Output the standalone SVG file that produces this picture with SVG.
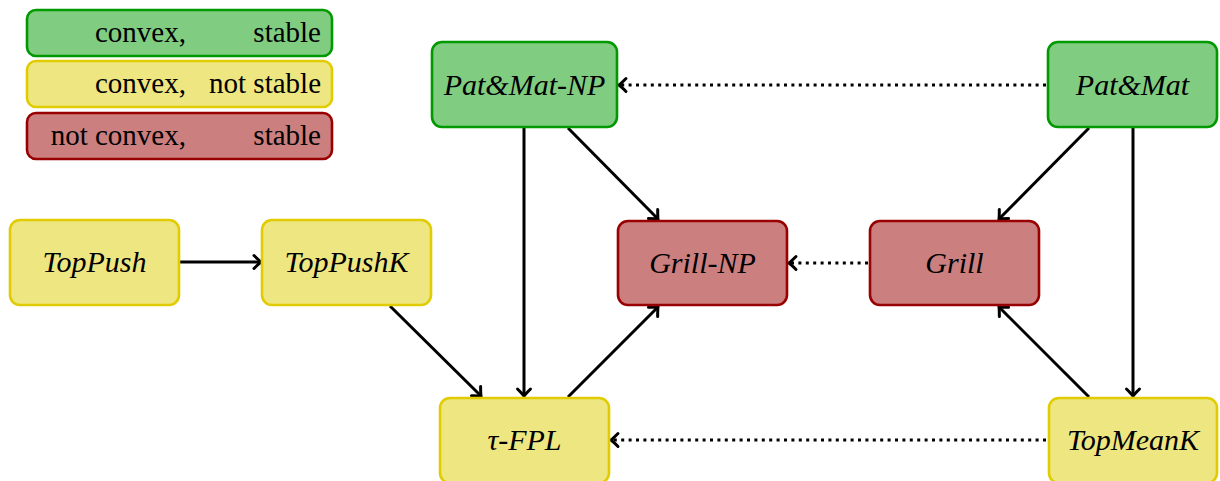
<svg xmlns="http://www.w3.org/2000/svg" width="1220" height="481" viewBox="0 0 1220 481">
<defs>
<style>
.g rect{fill:#80cc80;stroke:#009900;stroke-width:2.6}
.y rect{fill:#eee680;stroke:#e0cc00;stroke-width:2.6}
.r rect{fill:#cc7f7f;stroke:#990000;stroke-width:2.6}
.lab{font-family:'Liberation Serif',serif;font-style:italic;font-size:30px;fill:#000;text-anchor:middle}
.leg{font-family:'Liberation Serif',serif;font-size:29px;fill:#000;text-anchor:end}
.e{fill:none;stroke:#000;stroke-width:3;marker-end:url(#ah)}
.d{stroke-dasharray:3 4.4}
</style>
<marker id="ah" markerUnits="userSpaceOnUse" viewBox="-10 -8 12 16" refX="0" refY="0" markerWidth="12" markerHeight="16" orient="auto" overflow="visible">
<path d="M -7,-6.5 Q -2,-1.5 0,0 Q -2,1.5 -7,6.5" fill="none" stroke="#000" stroke-width="3" stroke-linecap="round"/>
</marker>
</defs>
<g id="legend">
<g class="g"><rect x="27" y="10" width="305" height="46" rx="9"/></g>
<g class="y"><rect x="27" y="61" width="305" height="46" rx="9"/></g>
<g class="r"><rect x="27" y="113" width="305" height="46" rx="9"/></g>
<text class="leg" x="186" y="42">convex,</text>
<text class="leg" x="321" y="42">stable</text>
<text class="leg" x="186" y="93">convex,</text>
<text class="leg" x="321" y="93">not stable</text>
<text class="leg" x="186" y="145">not convex,</text>
<text class="leg" x="321" y="145">stable</text>
</g>
<g id="edges">
<path class="e d" d="M 1046,85 L 619,85"/>
<path class="e d" d="M 868,263 L 789,263"/>
<path class="e d" d="M 1046,440 L 611,440"/>
<path class="e" d="M 180,262 L 261,262"/>
<path class="e" d="M 390,306 L 481,396"/>
<path class="e" d="M 524,128 L 524,396"/>
<path class="e" d="M 568,128 L 658,219"/>
<path class="e" d="M 568,397 L 658,307"/>
<path class="e" d="M 1089,128 L 999,219"/>
<path class="e" d="M 1133,128 L 1133,396"/>
<path class="e" d="M 1089,397 L 999,307"/>
</g>
<g id="patmatnp" class="g"><rect x="432" y="42" width="185" height="85" rx="10"/><text class="lab" x="524.5" y="95">Pat&amp;Mat-NP</text></g>
<g id="patmat" class="g"><rect x="1048" y="42" width="169" height="85" rx="10"/><text class="lab" x="1132.5" y="95">Pat&amp;Mat</text></g>
<g id="toppush" class="y"><rect x="10" y="220" width="169" height="85" rx="10"/><text class="lab" x="94.5" y="272">TopPush</text></g>
<g id="toppushk" class="y"><rect x="262" y="220" width="169" height="85" rx="10"/><text class="lab" x="346.5" y="272">TopPushK</text></g>
<g id="grillnp" class="r"><rect x="618" y="221" width="169" height="84" rx="10"/><text class="lab" x="702.5" y="273">Grill-NP</text></g>
<g id="grill" class="r"><rect x="870" y="221" width="169" height="84" rx="10"/><text class="lab" x="954.5" y="273">Grill</text></g>
<g id="taufpl" class="y"><rect x="440" y="398" width="169" height="85" rx="10"/><text class="lab" x="524.5" y="450">τ-FPL</text></g>
<g id="topmeank" class="y"><rect x="1049" y="398" width="168" height="85" rx="10"/><text class="lab" x="1133" y="450">TopMeanK</text></g>
</svg>
